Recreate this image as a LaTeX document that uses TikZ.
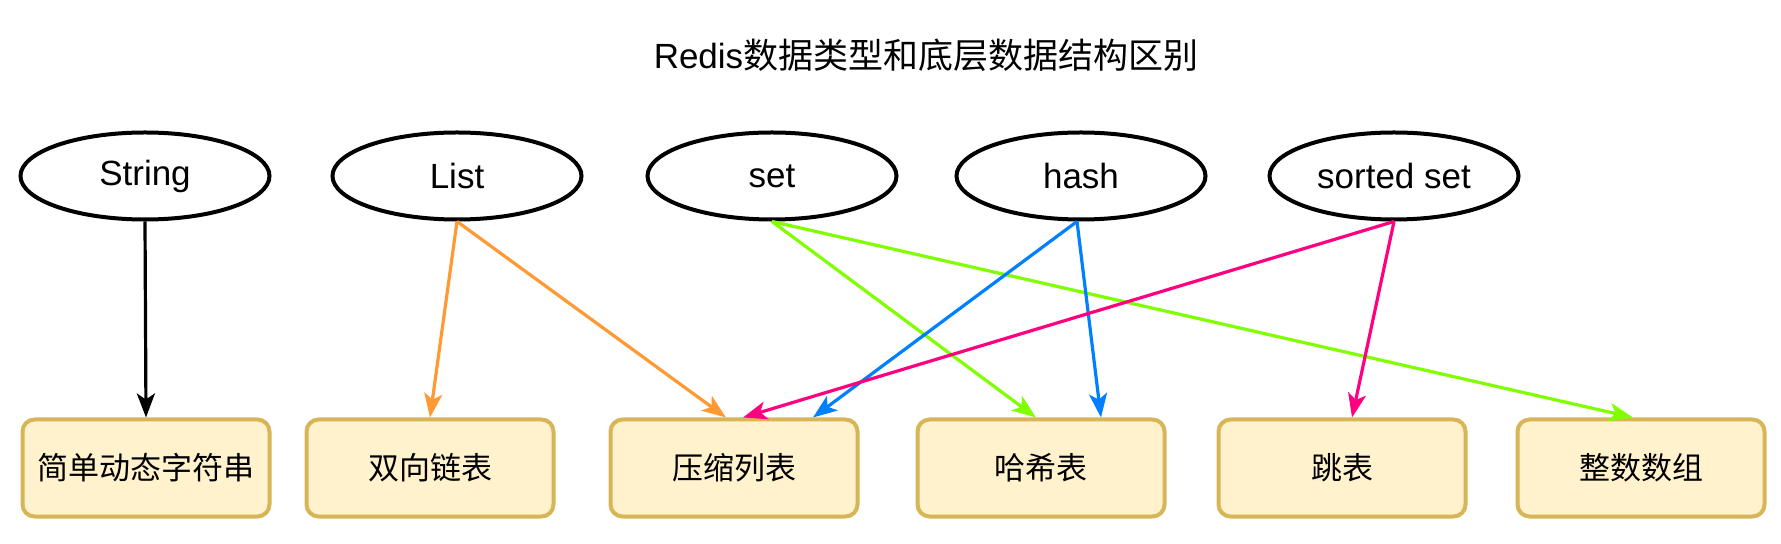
\documentclass[tikz,border=0pt]{standalone}
\usepackage{fontspec}
\setmainfont{Liberation Sans}
\newfontfamily\cjk{Noto Sans CJK SC}
\usetikzlibrary{shapes.geometric, arrows.meta}
\definecolor{boxfill}{HTML}{FFF2CC}
\definecolor{boxdraw}{HTML}{D6B656}
\definecolor{listorange}{HTML}{FF9933}
\definecolor{setgreen}{HTML}{80FF00}
\definecolor{hashblue}{HTML}{007FFF}
\definecolor{zsetpink}{HTML}{FF0080}
\tikzstyle{dtype} = [ellipse, draw=black, line width=2pt, minimum width=124.5pt, minimum height=43.5pt, inner sep=0, font=\fontsize{17.5}{20}\selectfont]
\tikzstyle{impl} = [rectangle, rounded corners=6pt, draw=boxdraw, fill=boxfill, line width=2pt, minimum width=123.5pt, minimum height=48.5pt, inner sep=0, font=\fontsize{15.5}{18}\selectfont\cjk]
\tikzstyle{arrow} = [line width=1.6pt,-{Stealth[length=12pt,width=9pt,inset=3pt]}]

\begin{document}
\begin{tikzpicture}[x=0.5pt,y=-0.5pt]
\useasboundingbox (0,0) rectangle (1781,544);

\node (title) at (926,55) {\fontsize{17.5}{20}\selectfont Redis{\cjk 数据类型和底层数据结构区别}};

% data types
\node[dtype] (string) at (145,176) {String};
\node[dtype] (list) at (457,176) {List};
\node[dtype] (set) at (772,176) {set};
\node[dtype] (hash) at (1081,176) {hash};
\node[dtype] (zset) at (1394,176) {sorted set};

% underlying structures
\node[impl] (sds) at (146,468) {简单动态字符串};
\node[impl] (linked) at (430,468) {双向链表};
\node[impl] (ziplist) at (734,468) {压缩列表};
\node[impl] (hashtable) at (1041,468) {哈希表};
\node[impl] (skiplist) at (1342,468) {跳表};
\node[impl] (intset) at (1641,468) {整数数组};

\draw[arrow] (string.south) -- (sds.north);
\draw[arrow,listorange] (list.south) -- (linked.north);
\draw[arrow,listorange] (list.south) -- ([xshift=-4pt]ziplist.north);
\draw[arrow,setgreen] (set.south) -- ([xshift=-2.5pt]hashtable.north);
\draw[arrow,setgreen] (set.south) -- ([xshift=-4pt]intset.north);
\draw[arrow,hashblue] ([xshift=-2pt]hash.south) -- ([xshift=39.5pt]ziplist.north);
\draw[arrow,hashblue] ([xshift=-2pt]hash.south) -- ([xshift=30pt]hashtable.north);
\draw[arrow,zsetpink] (zset.south) -- ([xshift=4.5pt]ziplist.north);
\draw[arrow,zsetpink] (zset.south) -- ([xshift=5pt]skiplist.north);
\end{tikzpicture}
\end{document}
